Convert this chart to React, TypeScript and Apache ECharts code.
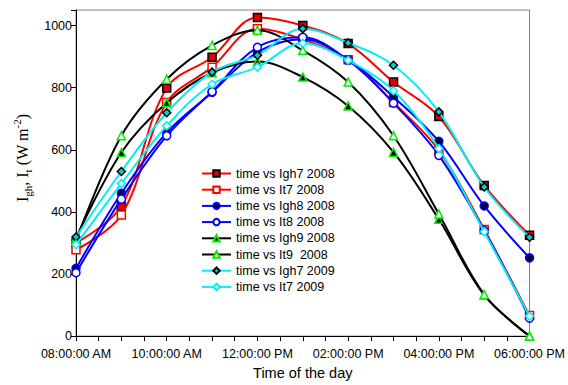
import { useEffect, useRef } from "react";
import * as echarts from "echarts";

const hours = [8, 9, 10, 11, 12, 13, 14, 15, 16, 17, 18];
const xTickLabels = ["08:00:00 AM", "10:00:00 AM", "12:00:00 PM", "02:00:00 PM", "04:00:00 PM", "06:00:00 PM"];
const yTicks = [0, 200, 400, 600, 800, 1000];

const igh7_2008 = [300, 418, 799, 898, 1026, 1000, 942, 818, 707, 485, 325];
const it7_2008 = [278, 390, 752, 866, 990, 955, 890, 752, 598, 343, 66];
const igh8_2008 = [218, 460, 655, 785, 914, 956, 890, 770, 627, 419, 252];
const it8_2008 = [204, 441, 645, 787, 930, 962, 888, 750, 582, 340, 58];
const igh9_2008 = [316, 591, 751, 848, 884, 834, 741, 592, 376, 132, 0];
const it9_2008 = [306, 645, 827, 936, 985, 920, 818, 645, 393, 134, 0];
const igh7_2009 = [319, 530, 719, 850, 904, 990, 944, 872, 722, 480, 318];
const it7_2009 = [294, 491, 677, 811, 866, 943, 888, 790, 604, 336, 64];

const names = [
  "time vs Igh7 2008",
  "time vs It7 2008",
  "time vs Igh8 2008",
  "time vs It8 2008",
  "time vs Igh9 2008",
  "time vs It9  2008",
  "time vs Igh7 2009",
  "time vs It7 2009",
];

const seriesData = [igh7_2008, it7_2008, igh8_2008, it8_2008, igh9_2008, it9_2008, igh7_2009, it7_2009];

const styles = [
  { line: "#ff0000", symbol: "rect", fill: "#e00000", border: "#000000" },
  { line: "#ff0000", symbol: "rect", fill: "#ffffff", border: "#ff0000" },
  { line: "#0000ff", symbol: "circle", fill: "#000020", border: "#0000ff" },
  { line: "#0000ff", symbol: "circle", fill: "#ffffff", border: "#0000ff" },
  { line: "#000000", symbol: "triangle", fill: "#000000", border: "#00ee00" },
  { line: "#000000", symbol: "triangle", fill: "#ffffff", border: "#00ee00" },
  { line: "#00eef5", symbol: "diamond", fill: "#00d0d0", border: "#000000" },
  { line: "#00eef5", symbol: "diamond", fill: "#ffffff", border: "#00eef5" },
];

function fmtHour(v: number): string {
  const h = Math.round(v);
  const h12 = h > 12 ? h - 12 : h;
  const ap = h < 12 ? "AM" : "PM";
  return (h12 < 10 ? "0" : "") + h12 + ":00:00 " + ap;
}

export default function App() {
  const ref = useRef<HTMLDivElement>(null);
  useEffect(() => {
    if (!ref.current) return;
    const chart = echarts.init(ref.current, undefined, { renderer: "svg" });
    const font = "Liberation Sans";
    chart.setOption({
      animation: false,
      backgroundColor: "#ffffff",
      grid: {
        left: 76,
        right: 28,
        top: 10,
        bottom: 47,
        show: true,
        borderColor: "#808080",
        borderWidth: 1,
        backgroundColor: "transparent",
      },
      legend: {
        orient: "vertical",
        left: 196,
        top: 162,
        itemWidth: 29,
        itemHeight: 8,
        itemGap: 3.2,
        itemTextGap: 6,
        textStyle: { fontFamily: font, fontSize: 12.5, color: "#000" },
        data: names,
      },
      xAxis: {
        type: "value",
        min: 8,
        max: 18,
        interval: 0.5,
        name: "Time of the day",
        nameLocation: "middle",
        nameGap: 27,
        nameTextStyle: { fontFamily: font, fontSize: 14.5, color: "#000" },
        axisLine: { lineStyle: { color: "#000", width: 1 } },
        axisTick: { show: true, length: 5, lineStyle: { color: "#000" } },
        splitLine: { show: false },
        axisLabel: {
          fontFamily: font,
          fontSize: 12.5,
          color: "#000",
          margin: 11,
          showMaxLabel: true,
          formatter: (v: number) => {
            if (Math.abs(v - Math.round(v)) > 1e-6 || Math.round(v) % 2 !== 0) return "";
            const s = fmtHour(v);
            return xTickLabels.indexOf(s) >= 0 ? s : "";
          },
        },
      },
      yAxis: {
        type: "value",
        min: 0,
        max: 1050,
        interval: 200,
        axisLine: { show: true, lineStyle: { color: "#000", width: 1 } },
        axisTick: { show: true, length: 5, lineStyle: { color: "#000" } },
        splitLine: { show: false },
        axisLabel: {
          fontFamily: font,
          fontSize: 12.5,
          color: "#000",
          margin: 4,
          formatter: (v: number) => (yTicks.indexOf(v) >= 0 ? String(v) : ""),
        },
      },
      graphic: [
        {
          type: "text",
          x: 19,
          y: 158,
          rotation: Math.PI / 2,
          style: {
            text: "{m|I}{s|gh}{m|, I}{s|t}{m| (W m}{p|-2}{m|)}",
            align: "center",
            verticalAlign: "middle",
            fill: "#000",
            rich: {
              m: { fontFamily: "Liberation Serif", fontSize: 16, lineHeight: 16, verticalAlign: "top", padding: [3, 0, 0, 0], fill: "#000" },
              s: { fontFamily: "Liberation Serif", fontSize: 11, lineHeight: 11, verticalAlign: "top", padding: [11, 0, 0, 0], fill: "#000" },
              p: { fontFamily: "Liberation Serif", fontSize: 11, lineHeight: 11, verticalAlign: "top", padding: [0, 0, 0, 0], fill: "#000" },
            },
          },
        },
      ],
      series: seriesData.map((vals, i) => ({
        name: names[i],
        type: "line",
        smooth: 0.35,
        data: hours.map((h, j) => [h, vals[j]]),
        symbol: styles[i].symbol,
        symbolSize: 8,
        lineStyle: { color: styles[i].line, width: 2 },
        itemStyle: { color: styles[i].fill, borderColor: styles[i].border, borderWidth: 1.5 },
        color: styles[i].line,
        z: 2 + i,
      })),
    });
    return () => chart.dispose();
  }, []);
  return (
    <div
      ref={ref}
      style={{ position: "fixed", left: 0, top: 0, width: 568, height: 385, background: "#fff" }}
    />
  );
}
